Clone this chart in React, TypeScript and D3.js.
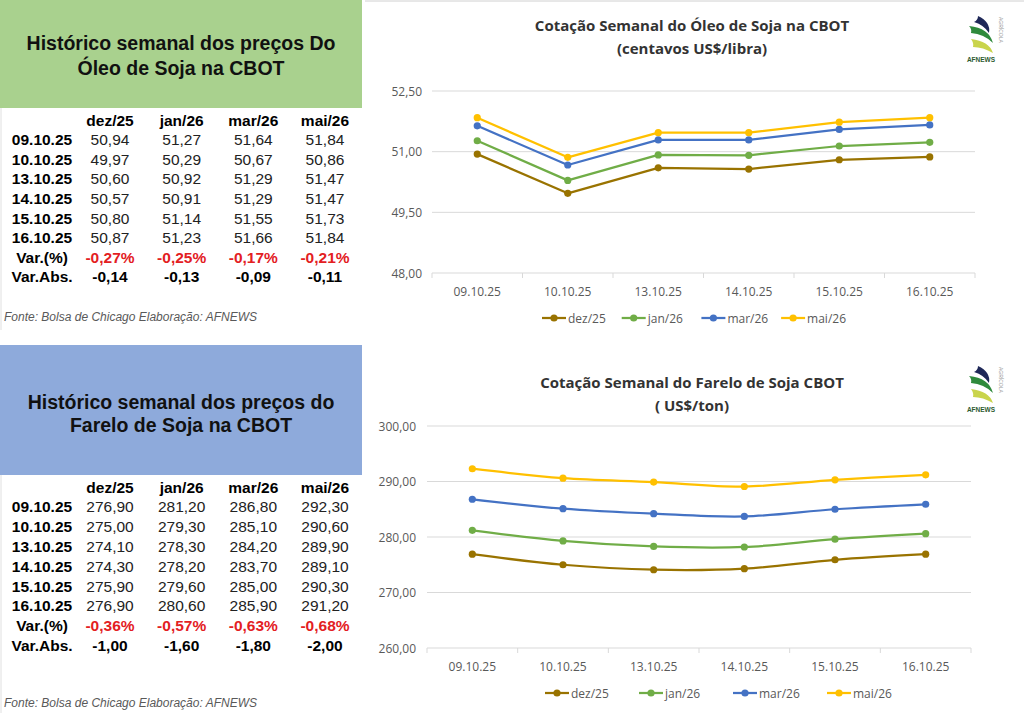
import { scaleBand, scaleLinear, line as d3Line, curveLinear, curveCatmullRom, format } from "d3";

const dates = ["09.10.25", "10.10.25", "13.10.25", "14.10.25", "15.10.25", "16.10.25"];
const contracts = ["dez/25", "jan/26", "mar/26", "mai/26"];
const colors = ["#997300", "#70ad47", "#4472c4", "#ffc000"];

// Óleo de soja (centavos US$/libra)
const oleoDez = [50.94, 49.97, 50.6, 50.57, 50.8, 50.87];
const oleoJan = [51.27, 50.29, 50.92, 50.91, 51.14, 51.23];
const oleoMar = [51.64, 50.67, 51.29, 51.29, 51.55, 51.66];
const oleoMai = [51.84, 50.86, 51.47, 51.47, 51.73, 51.84];
const oleoVarPct = ["-0,27%", "-0,25%", "-0,17%", "-0,21%"];
const oleoVarAbs = ["-0,14", "-0,13", "-0,09", "-0,11"];
const oleoTicks = [48, 49.5, 51, 52.5];

// Farelo de soja (US$/ton)
const fareloDez = [276.9, 275.0, 274.1, 274.3, 275.9, 276.9];
const fareloJan = [281.2, 279.3, 278.3, 278.2, 279.6, 280.6];
const fareloMar = [286.8, 285.1, 284.2, 283.7, 285.0, 285.9];
const fareloMai = [292.3, 290.6, 289.9, 289.1, 290.3, 291.2];
const fareloVarPct = ["-0,36%", "-0,57%", "-0,63%", "-0,68%"];
const fareloVarAbs = ["-1,00", "-1,60", "-1,80", "-2,00"];
const fareloTicks = [260, 270, 280, 290, 300];

const TABLE_FONT = "'Liberation Sans', Arial, sans-serif";
const CHART_FONT = "'Open Sans', 'Noto Sans', sans-serif";
const fmt = (v: number) => format(".2f")(v).replace(".", ",");

interface TableProps {
  y0: number;
  step: number;
  series: number[][];
  varPct: string[];
  varAbs: string[];
  footY: number;
}

function PriceTable({ y0, step, series, varPct, varAbs, footY }: TableProps) {
  const colX = scaleLinear().domain([0, 3]).range([110, 325]);
  const rowY = (i: number) => y0 + step * (i + 1);
  return (
    <g fontFamily={TABLE_FONT} fontSize={15.5} dominantBaseline="central" textAnchor="middle">
      {contracts.map((c, j) => (
        <text key={c} x={colX(j)} y={y0} fontWeight="bold" fill="#000">{c}</text>
      ))}
      {dates.map((d, i) => (
        <g key={d}>
          <text x={42} y={rowY(i)} fontWeight="bold" fill="#000">{d}</text>
          {series.map((s, j) => (
            <text key={j} x={colX(j)} y={rowY(i)} fill="#222">{fmt(s[i])}</text>
          ))}
        </g>
      ))}
      <text x={42} y={rowY(6)} fontWeight="bold" fill="#000">Var.(%)</text>
      {varPct.map((v, j) => (
        <text key={j} x={colX(j)} y={rowY(6)} fontWeight="bold" fill="#e3201f">{v}</text>
      ))}
      <text x={42} y={rowY(7)} fontWeight="bold" fill="#000">Var.Abs.</text>
      {varAbs.map((v, j) => (
        <text key={j} x={colX(j)} y={rowY(7)} fontWeight="bold" fill="#000">{v}</text>
      ))}
      <text x={4} y={footY} textAnchor="start" fontSize={12} fontStyle="italic" fill="#595959">
        Fonte: Bolsa de Chicago Elaboração: AFNEWS
      </text>
    </g>
  );
}

function Logo({ x, y }: { x: number; y: number }) {
  return (
    <g transform={`translate(${x},${y})`}>
      <path d="M10,0 Q23,6 21,17 Q16,9 6,6 Q10,4 10,0 Z" fill="#1f2858" />
      <path d="M1,10 Q21,12 25,27 Q16,18 3,17 Q4,13 1,10 Z" fill="#2f8a3c" />
      <path d="M3,23 Q21,25 25,37 Q15,31 5,31 Q6,27 3,23 Z" fill="#c9d44c" />
      <text x={13} y={46} textAnchor="middle" fontFamily={TABLE_FONT} fontSize={6.5} fontWeight="bold" fill="#2d5a2e">
        AFNEWS
      </text>
      <text transform="translate(31,1) rotate(90)" fontFamily={TABLE_FONT} fontSize={5} fill="#9a9a9a">
        AGRÍCOLA
      </text>
    </g>
  );
}

interface ChartProps {
  title1: string;
  title2: string;
  titleY: number;
  series: number[][];
  ticks: number[];
  x0: number;
  x1: number;
  yTop: number;
  yBottom: number;
  labelX: number;
  legendX: number;
  legendStep: number;
  smooth: boolean;
}

function LineChart({ title1, title2, titleY, series, ticks, x0, x1, yTop, yBottom, labelX, legendX, legendStep, smooth }: ChartProps) {
  const x = scaleBand<string>().domain(dates).range([x0, x1]).padding(0);
  const y = scaleLinear().domain([ticks[0], ticks[ticks.length - 1]]).range([yBottom, yTop]);
  const cx = (d: string) => (x(d) ?? 0) + x.bandwidth() / 2;
  const gen = d3Line<number>()
    .x((_, i) => cx(dates[i]))
    .y((v) => y(v))
    .curve(smooth ? curveCatmullRom.alpha(0.5) : curveLinear);
  const boundaries = [...dates.map((d) => x(d) ?? 0), x1];
  const labelY = yBottom + 18;
  const legendY = yBottom + 45;

  return (
    <g fontFamily={CHART_FONT}>
      <text x={692} y={titleY} textAnchor="middle" fontSize={15} fontWeight="bold" fill="#333" dominantBaseline="central">
        {title1}
      </text>
      <text x={692} y={titleY + 23} textAnchor="middle" fontSize={15} fontWeight="bold" fill="#333" dominantBaseline="central">
        {title2}
      </text>
      {ticks.map((t) => (
        <g key={t}>
          <line x1={x0} x2={x1} y1={y(t)} y2={y(t)} stroke="#d9d9d9" strokeWidth={1} />
          <text x={labelX} y={y(t)} textAnchor="end" fontSize={12} fill="#595959" dominantBaseline="central">
            {fmt(t)}
          </text>
        </g>
      ))}
      {boundaries.map((b, i) => (
        <line key={i} x1={b} x2={b} y1={yBottom} y2={yBottom + 5} stroke="#d9d9d9" />
      ))}
      {dates.map((d) => (
        <text key={d} x={cx(d)} y={labelY} textAnchor="middle" fontSize={12} fill="#595959" dominantBaseline="central">
          {d}
        </text>
      ))}
      {series.map((s, j) => (
        <g key={j}>
          <path d={gen(s) ?? ""} fill="none" stroke={colors[j]} strokeWidth={2.25} strokeLinejoin="round" />
          {s.map((v, i) => (
            <circle key={i} cx={cx(dates[i])} cy={y(v)} r={3.6} fill={colors[j]} />
          ))}
        </g>
      ))}
      {contracts.map((c, j) => {
        const lx = legendX + j * legendStep;
        return (
          <g key={c}>
            <line x1={lx} x2={lx + 24} y1={legendY} y2={legendY} stroke={colors[j]} strokeWidth={2.25} />
            <circle cx={lx + 12} cy={legendY} r={3.6} fill={colors[j]} />
            <text x={lx + 26} y={legendY} fontSize={12} fill="#595959" dominantBaseline="central">
              {c}
            </text>
          </g>
        );
      })}
    </g>
  );
}

export default function App() {
  return (
    <svg
      width={1024}
      height={713}
      viewBox="0 0 1024 713"
      style={{ position: "absolute", left: 0, top: 0, background: "#fff" }}
    >
      <rect x={0} y={0} width={1024} height={713} fill="#fff" />
      {/* frame lines */}
      <line x1={365} x2={1024} y1={1} y2={1} stroke="#d0d0d0" />
      <line x1={1} x2={1} y1={108} y2={330} stroke="#e0e0e0" />
      <line x1={1} x2={1} y1={475} y2={713} stroke="#e0e0e0" />

      {/* Óleo header box */}
      <rect x={0} y={0} width={362} height={108} fill="#a9d18e" />
      <g fontFamily={TABLE_FONT} fontSize={19.5} fontWeight="bold" textAnchor="middle" dominantBaseline="central" fill="#111">
        <text x={181} y={43}>Histórico semanal dos preços Do</text>
        <text x={181} y={68}>Óleo de Soja na CBOT</text>
      </g>
      <PriceTable y0={120} step={19.6} series={[oleoDez, oleoJan, oleoMar, oleoMai]} varPct={oleoVarPct} varAbs={oleoVarAbs} footY={317} />

      {/* Farelo header box */}
      <rect x={0} y={345} width={362} height={130} fill="#8eaadb" />
      <g fontFamily={TABLE_FONT} fontSize={19.5} fontWeight="bold" textAnchor="middle" dominantBaseline="central" fill="#111">
        <text x={181} y={402}>Histórico semanal dos preços do</text>
        <text x={181} y={425}>Farelo de Soja na CBOT</text>
      </g>
      <PriceTable y0={487} step={19.8} series={[fareloDez, fareloJan, fareloMar, fareloMai]} varPct={fareloVarPct} varAbs={fareloVarAbs} footY={703} />

      <LineChart
        title1="Cotação Semanal do Óleo de Soja na CBOT"
        title2="(centavos US$/libra)"
        titleY={25}
        series={[oleoDez, oleoJan, oleoMar, oleoMai]}
        ticks={oleoTicks}
        x0={432}
        x1={975}
        yTop={91}
        yBottom={273}
        labelX={422}
        legendX={542}
        legendStep={79.7}
        smooth={false}
      />
      <Logo x={968} y={16} />

      <LineChart
        title1="Cotação Semanal do Farelo de Soja CBOT"
        title2="( US$/ton)"
        titleY={382}
        series={[fareloDez, fareloJan, fareloMar, fareloMai]}
        ticks={fareloTicks}
        x0={427}
        x1={971}
        yTop={426}
        yBottom={648}
        labelX={416}
        legendX={545}
        legendStep={94}
        smooth={true}
      />
      <Logo x={968} y={366} />
    </svg>
  );
}
